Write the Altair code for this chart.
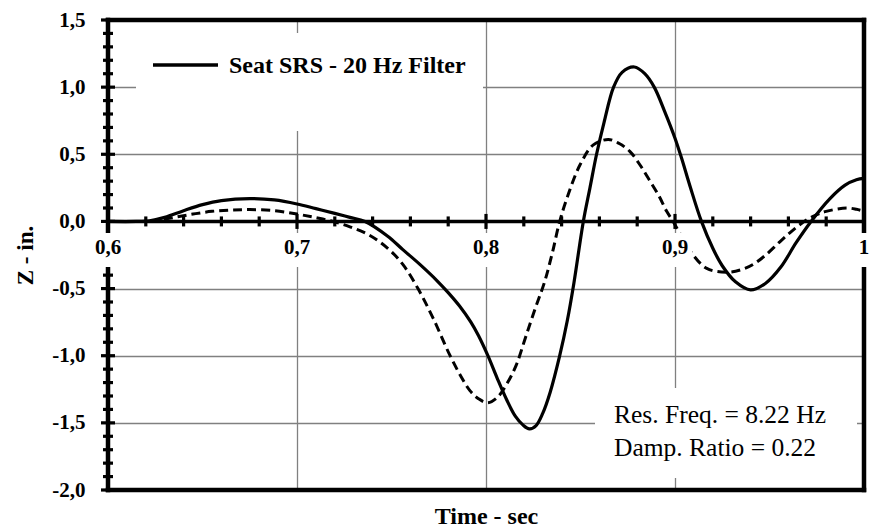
import altair as alt
import pandas as pd

# ---------------- data ----------------
t_solid = [0.600, 0.615, 0.622, 0.630, 0.640, 0.650, 0.660, 0.675, 0.688, 0.700,
           0.710, 0.720, 0.728, 0.736, 0.748, 0.756, 0.765, 0.774, 0.780, 0.786,
           0.792, 0.796, 0.801, 0.806, 0.811, 0.8155, 0.8195, 0.823, 0.8265, 0.830,
           0.834, 0.839, 0.843, 0.8465, 0.8515, 0.855, 0.8585, 0.8625, 0.8675, 0.872,
           0.8785, 0.884, 0.889, 0.8945, 0.900, 0.9035, 0.908, 0.914, 0.920, 0.925,
           0.932, 0.940, 0.948, 0.956, 0.964, 0.972, 0.982, 0.990, 0.996, 1.000]
z_solid = [0.0, 0.0, 0.005, 0.03, 0.08, 0.125, 0.155, 0.17, 0.16, 0.13,
           0.095, 0.06, 0.03, 0.0, -0.11, -0.21, -0.32, -0.44, -0.53, -0.63,
           -0.75, -0.85, -1.0, -1.17, -1.33, -1.45, -1.515, -1.545, -1.52, -1.43,
           -1.27, -1.0, -0.74, -0.46, 0.0, 0.25, 0.5, 0.74, 1.0, 1.11,
           1.15, 1.10, 1.0, 0.82, 0.62, 0.47, 0.26, 0.0, -0.2, -0.33,
           -0.45, -0.51, -0.46, -0.34, -0.16, 0.0, 0.17, 0.27, 0.31, 0.32]

t_dashed = [0.600, 0.618, 0.625, 0.635, 0.645, 0.655, 0.665, 0.675, 0.688, 0.700,
            0.710, 0.719, 0.728, 0.738, 0.748, 0.756, 0.764, 0.772, 0.781, 0.787,
            0.7915, 0.796, 0.801, 0.806, 0.811, 0.816, 0.821, 0.826, 0.831, 0.835,
            0.839, 0.8435, 0.8497, 0.8568, 0.8647, 0.8705, 0.8762, 0.8815, 0.8868, 0.8915,
            0.8956, 0.899, 0.903, 0.908, 0.9168, 0.9273, 0.935, 0.9414, 0.948, 0.9556,
            0.962, 0.9697, 0.975, 0.980, 0.9908, 0.996, 1.000]
z_dashed = [0.0, 0.0, 0.005, 0.03, 0.055, 0.075, 0.085, 0.088, 0.08, 0.055,
            0.028, 0.0, -0.04, -0.1, -0.2, -0.32, -0.5, -0.72, -1.0, -1.16,
            -1.26, -1.32, -1.35, -1.31, -1.21, -1.07, -0.86, -0.65, -0.45, -0.24,
            0.0, 0.2, 0.42, 0.57, 0.61, 0.58, 0.52, 0.42, 0.30, 0.19,
            0.075, 0.0, -0.1, -0.22, -0.35, -0.378, -0.36, -0.32, -0.25, -0.15,
            -0.07, 0.012, 0.05, 0.075, 0.10, 0.09, 0.075]

y_major = [-2.0, -1.5, -1.0, -0.5, 0.0, 0.5, 1.0, 1.5]
y_minor = [-1.9, -1.8, -1.7, -1.6, -1.4, -1.3, -1.2, -1.1, -0.9, -0.8, -0.7, -0.6,
           -0.4, -0.3, -0.2, -0.1, 0.1, 0.2, 0.3, 0.4, 0.6, 0.7, 0.8, 0.9,
           1.1, 1.2, 1.3, 1.4]
x_major = [0.6, 0.7, 0.8, 0.9, 1.0]
x_tick_major = [0.7, 0.8, 0.9]
x_minor = [0.62, 0.64, 0.66, 0.68, 0.72, 0.74, 0.76, 0.78, 0.82, 0.84, 0.86, 0.88,
           0.92, 0.94, 0.96, 0.98]
x_labels = ["0,6", "0,7", "0,8", "0,9", "1"]
x_range = [0.6, 1.0]
y_range = [-2.0, 1.5]

legend_label = "Seat SRS - 20 Hz Filter"
note_lines = ["Res. Freq. = 8.22 Hz", "Damp. Ratio = 0.22"]
x_title = "Time - sec"
y_title = "Z - in."

# ---------------- frames ----------------
df_solid = pd.DataFrame({"t": t_solid, "z": z_solid})
df_dashed = pd.DataFrame({"t": t_dashed, "z": z_dashed})
df_ymaj = pd.DataFrame({"v": y_major})
df_ymin = pd.DataFrame({"v": y_minor})
df_xmaj = pd.DataFrame({"t": x_tick_major})
df_xmin = pd.DataFrame({"t": x_minor})
df_xlab = pd.DataFrame({"t": x_major, "label": x_labels})
df_one = pd.DataFrame({"k": [0]})

FONT = "Liberation Serif"
W, H = 756, 470

xs = alt.Scale(domain=x_range, nice=False, zero=False)
ys = alt.Scale(domain=y_range, nice=False, zero=False)

xa = alt.Axis(values=x_major, grid=True, gridColor="#808080", gridWidth=1.3,
              labels=False, ticks=False, domain=False, title=x_title,
              titleFont=FONT, titleFontSize=24, titleFontWeight="bold",
              titleColor="black", titleY=33, titleBaseline="alphabetic")
ya = alt.Axis(values=y_major, grid=True, gridColor="#808080", gridWidth=1.3,
              domain=False, ticks=False, tickSize=0, labelPadding=23,
              labelFont=FONT, labelFontSize=21, labelFontWeight="bold",
              labelColor="black",
              labelExpr="replace(replace(format(datum.value, '.1f'), '.', ','), '\u2212', '-')",
              title=y_title, titleFont=FONT, titleFontSize=23, titleFontWeight="bold",
              titleColor="black", titleX=-76, titleY=235, titleAngle=270,
              titleBaseline="alphabetic", titleAlign="center")


def X(field="t"):
    return alt.X(f"{field}:Q", scale=xs, axis=xa)


def Y(field="z"):
    return alt.Y(f"{field}:Q", scale=ys, axis=ya)


def XD(v):
    return alt.X(datum=v, type="quantitative", scale=xs, axis=xa)


def YD(v):
    return alt.Y(datum=v, type="quantitative", scale=ys, axis=ya)


# boxes behind legend and note
legend_box = alt.Chart(df_one).mark_rect(color="white").encode(
    x=alt.value(28), x2=alt.value(375), y=alt.value(13), y2=alt.value(111))
note_box = alt.Chart(df_one).mark_rect(color="white").encode(
    x=alt.value(487), x2=alt.value(749), y=alt.value(368), y2=alt.value(458))

# frame
border_style = dict(color="black", strokeWidth=4.5, strokeCap="square")
top_b = alt.Chart(df_one).mark_rule(**border_style).encode(
    x=XD(x_range[0]), x2=alt.X2(datum=x_range[1]), y=YD(y_range[1]))
bot_b = alt.Chart(df_one).mark_rule(**border_style).encode(
    x=XD(x_range[0]), x2=alt.X2(datum=x_range[1]), y=YD(y_range[0]))
left_b = alt.Chart(df_one).mark_rule(**border_style).encode(
    x=XD(x_range[0]), y=YD(y_range[0]), y2=alt.Y2(datum=y_range[1]))
right_b = alt.Chart(df_one).mark_rule(**border_style).encode(
    x=XD(x_range[1]), y=YD(y_range[0]), y2=alt.Y2(datum=y_range[1]))

# x axis line at z = 0
zero_line = alt.Chart(df_one).mark_rule(color="black", strokeWidth=3.5).encode(
    x=XD(x_range[0]), x2=alt.X2(datum=x_range[1]), y=YD(0))

ymaj_ticks = alt.Chart(df_ymaj).mark_tick(orient="horizontal", size=14, thickness=3.2,
                                          color="black", opacity=1).encode(
    y=Y("v"), x=alt.value(0))
ymin_ticks = alt.Chart(df_ymin).mark_tick(orient="horizontal", size=10, thickness=3.2,
                                          color="black", opacity=1).encode(
    y=Y("v"), x=alt.value(0))
xmaj_ticks = alt.Chart(df_xmaj).mark_tick(orient="vertical", size=15, thickness=3.2,
                                          color="black", opacity=1).encode(
    x=X(), y=YD(0))
xmin_ticks = alt.Chart(df_xmin).mark_tick(orient="vertical", size=10, thickness=3.2,
                                          color="black", opacity=1).encode(
    x=X(), y=YD(0))

dashed = alt.Chart(df_dashed).mark_line(color="black", strokeWidth=3,
                                        strokeDash=[9, 5],
                                        interpolate="catmull-rom").encode(
    x=X(), y=Y())
solid = alt.Chart(df_solid).mark_line(color="black", strokeWidth=3.2,
                                      interpolate="catmull-rom").encode(
    x=X(), y=Y())

label_boxes = alt.Chart(df_xlab).mark_point(shape="M-1,-1H1V1H-1Z", filled=True,
                                            fill="white", opacity=1, strokeWidth=0,
                                            size=1156).encode(
    x=X(), y=alt.value(230))
x_label_text = alt.Chart(df_xlab).mark_text(font=FONT, fontSize=21, fontWeight="bold",
                                            color="black", baseline="middle",
                                            align="center", dy=27).encode(
    x=X(), y=YD(0), text="label:N")

legend_line = alt.Chart(df_one).mark_rule(color="black", strokeWidth=3.5).encode(
    x=alt.value(45), x2=alt.value(110), y=alt.value(45))
legend_text = alt.Chart(df_one).mark_text(font=FONT, fontSize=24,
                                          fontWeight="bold", color="black",
                                          align="left", baseline="middle").encode(
    x=alt.value(121), y=alt.value(46), text=alt.value(legend_label))

note1 = alt.Chart(df_one).mark_text(font=FONT, fontSize=25.5, color="black",
                                    align="left", baseline="middle").encode(
    x=alt.value(506), y=alt.value(395), text=alt.value(note_lines[0]))
note2 = alt.Chart(df_one).mark_text(font=FONT, fontSize=25.5, color="black",
                                    align="left", baseline="middle").encode(
    x=alt.value(506), y=alt.value(428), text=alt.value(note_lines[1]))

chart = alt.layer(
    legend_box, note_box, zero_line, top_b, bot_b, left_b, right_b,
    ymin_ticks, ymaj_ticks, xmin_ticks, xmaj_ticks,
    dashed, solid, label_boxes, x_label_text, legend_line, legend_text, note1, note2
).properties(
    width=W, height=H,
    autosize=alt.AutoSizeParams(type="none"),
    padding={"left": 108, "top": 20, "right": 5, "bottom": 38},
    background="white",
).configure_view(
    strokeWidth=0
)

chart.save("out.html", embed_options={"renderer": "svg", "actions": False})
